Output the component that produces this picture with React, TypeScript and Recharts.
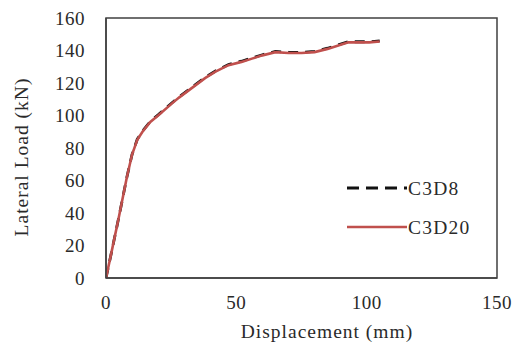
import { LineChart, Line, XAxis, YAxis, ReferenceArea } from "recharts";

const displacement = [0, 2, 5, 8, 10, 12, 14, 17, 20, 25, 28, 33, 38, 42, 47, 52, 56, 60, 65, 70, 75, 80, 85, 90, 93, 97, 101, 105];
const loadC3D8 = [0, 15, 38, 62, 76, 85.4, 90.4, 96.4, 100.4, 107.4, 111.4, 117.4, 123.4, 127.4, 131.4, 133.4, 135.4, 137.4, 139.4, 138.9, 138.9, 139.4, 141.4, 143.9, 145.4, 145.4, 145.4, 145.9];
const loadC3D20 = [0, 15, 38, 62, 76, 85, 90, 96, 100, 107, 111, 117, 123, 127, 131, 133, 135, 137, 139, 138.5, 138.5, 139, 141, 143.5, 145, 145, 145, 145.5];

const xTicks = [0, 50, 100, 150];
const yTicks = [0, 20, 40, 60, 80, 100, 120, 140, 160];

const seriesC3D8 = displacement.map((x, i) => ({ x, y: loadC3D8[i] }));
const seriesC3D20 = displacement.map((x, i) => ({ x, y: loadC3D20[i] }));

const FONT = "Liberation Serif, Times New Roman, serif";
const RED = "#c0504d";
const AXIS = "#404040";
const TEXT = "#2a2a2a";

const tickStyle = { fontFamily: FONT, fontSize: 19, fill: TEXT, letterSpacing: 0.5 };

function XTitle() {
  return (
    <text x={327} y={331} textAnchor="middle" dominantBaseline="central"
      style={{ fontFamily: FONT, fontSize: 19.5, fill: TEXT, letterSpacing: 1 }}>
      Displacement (mm)
    </text>
  );
}

function YTitle() {
  return (
    <text x={21} y={157} textAnchor="middle" dominantBaseline="central" transform="rotate(-90 21 157)"
      style={{ fontFamily: FONT, fontSize: 19.5, fill: TEXT, letterSpacing: 1 }}>
      Lateral Load (kN)
    </text>
  );
}

function LegendBox() {
  return (
    <svg width={150} height={70} style={{ position: "absolute", left: 345, top: 178, overflow: "visible" }}>
      <line x1={2} y1={10} x2={62} y2={10} stroke="#111" strokeWidth={3} strokeDasharray="12 7" />
      <text x={63} y={10} dominantBaseline="central"
        style={{ fontFamily: FONT, fontSize: 19.5, fill: TEXT, letterSpacing: 1.2 }}>C3D8</text>
      <line x1={2} y1={49} x2={62} y2={49} stroke={RED} strokeWidth={2.5} />
      <text x={63} y={49} dominantBaseline="central"
        style={{ fontFamily: FONT, fontSize: 19.5, fill: TEXT, letterSpacing: 1.2 }}>C3D20</text>
    </svg>
  );
}

export default function App() {
  return (
    <div style={{ position: "absolute", left: 0, top: 0, width: 517, height: 342, background: "#fff", fontFamily: FONT }}>
      <LineChart width={517} height={342} margin={{ top: 18, right: 20, bottom: 0, left: 0 }}>
        <ReferenceArea x1={0} x2={150} y1={0} y2={160} fill="none" stroke={AXIS} strokeWidth={1.5} ifOverflow="visible" />
        <XAxis
          type="number"
          dataKey="x"
          domain={[0, 150]}
          ticks={xTicks}
          interval={0}
          height={64}
          tickLine={false}
          tickSize={0}
          tickMargin={18}
          axisLine={{ stroke: AXIS, strokeWidth: 1.5 }}
          tick={tickStyle}
          label={<XTitle />}
          allowDataOverflow
        />
        <YAxis
          type="number"
          dataKey="y"
          domain={[0, 160]}
          ticks={yTicks}
          interval={0}
          width={106}
          tickLine={false}
          tickSize={0}
          tickMargin={21}
          axisLine={{ stroke: AXIS, strokeWidth: 1.5 }}
          tick={tickStyle}
          label={<YTitle />}
          allowDataOverflow
        />
        <Line
          data={seriesC3D8}
          dataKey="y"
          name="C3D8"
          type="linear"
          stroke="#111"
          strokeWidth={2.8}
          strokeDasharray="10 7"
          dot={false}
          isAnimationActive={false}
        />
        <Line
          data={seriesC3D20}
          dataKey="y"
          name="C3D20"
          type="linear"
          stroke={RED}
          strokeWidth={2.6}
          dot={false}
          isAnimationActive={false}
        />
      </LineChart>
      <LegendBox />
    </div>
  );
}
